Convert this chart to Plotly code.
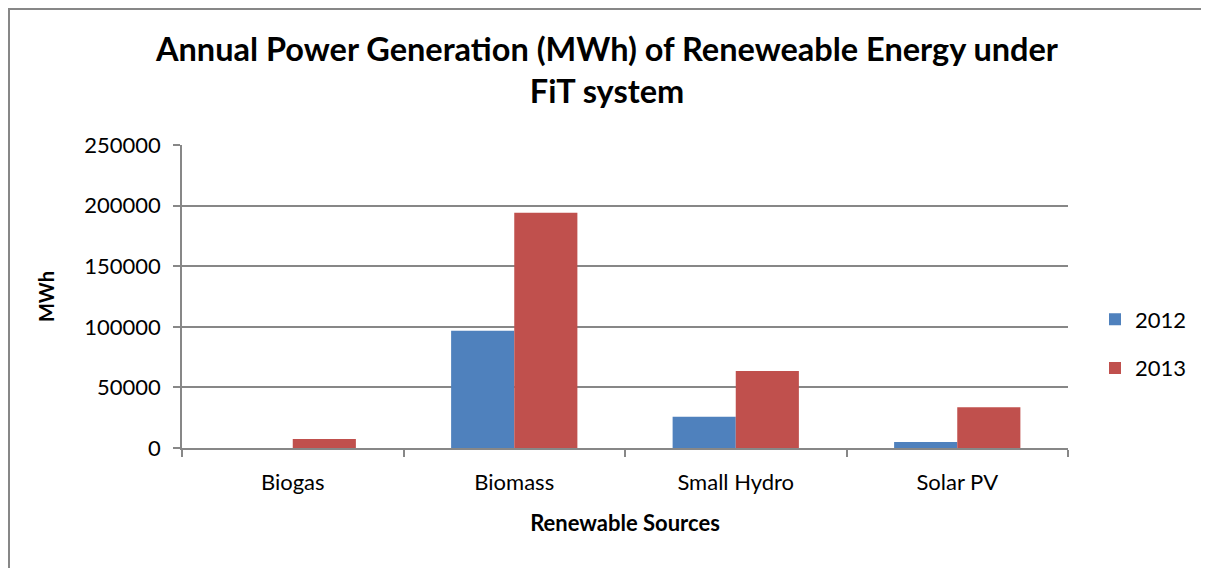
import plotly.graph_objects as go

categories = ["Biogas", "Biomass", "Small Hydro", "Solar PV"]
gen_2012 = [0, 96700, 25700, 4900]
gen_2013 = [7400, 194100, 63600, 33700]
y_ticks = [0, 50000, 100000, 150000, 200000, 250000]

# page has an 8px body margin, so the figure is 8px smaller and coords shifted by -8
OFF = 8
W, H = 1209 - OFF, 568 - OFF
L, R, T, B = 182 - OFF, 1068 - OFF, 145 - OFF, 448 - OFF
PW, PH = R - L, B - T


def fx(p):
    # figure pixel -> paper x
    return (p - L) / PW


def fy(p):
    # figure pixel -> paper y
    return (B - p) / PH


def px_x(p):
    return fx(p - OFF)


def px_y(p):
    return fy(p - OFF)


FONT = "Lato, 'Open Sans', sans-serif"
GRID = "#878787"

fig = go.Figure()
fig.add_bar(name="2012", x=categories, y=gen_2012, marker_color="#4F81BD",
            marker_line_width=0, legendgroup="g2012")
fig.add_bar(name="2013", x=categories, y=gen_2013, marker_color="#C0504D",
            marker_line_width=0, legendgroup="g2013")

fig.update_layout(
    width=W, height=H,
    margin=dict(l=L, r=W - R, t=T, b=H - B, autoexpand=False),
    paper_bgcolor="white", plot_bgcolor="white",
    font=dict(family=FONT, size=22, color="#000000"),
    barmode="group", bargap=0.43, bargroupgap=0,
    title=dict(text="<b>Annual Power Generation (MWh) of Reneweable Energy under<br>FiT system</b>",
               x=(607 - OFF) / W, xanchor="center", xref="container",
               y=1 - 53 / H, yanchor="middle", yref="container",
               font=dict(family=FONT, size=32.5, color="#000000")),
    legend=dict(x=px_x(1095), xanchor="left", y=px_y(344), yanchor="middle",
                font=dict(family=FONT, size=22, color="#000000"),
                tracegroupgap=17, bgcolor="rgba(0,0,0,0)"),
    xaxis=dict(showline=True, linecolor=GRID, linewidth=1.5,
               ticks="outside", tickson="boundaries", ticklen=7, tickcolor=GRID,
               tickwidth=1.5, showgrid=False, ticklabelstandoff=14,
               title=dict(text="<b>Renewable Sources</b>", standoff=21,
                          font=dict(family=FONT, size=22))),
    yaxis=dict(range=[0, 250000], tickvals=y_ticks, ticktext=[str(v) for v in y_ticks],
               showline=True, linecolor=GRID, linewidth=1.5,
               ticks="outside", ticklen=7, tickcolor=GRID, tickwidth=1.5,
               showgrid=True, gridcolor=GRID, gridwidth=1.5, zeroline=False,
               ticklabelstandoff=8,
               title=dict(text="<b>MWh</b>", standoff=24,
                          font=dict(family=FONT, size=20))),
    shapes=[
        dict(type="line", xref="paper", yref="paper",
             x0=fx(0), x1=fx(0), y0=fy(0), y1=fy(H + 10),
             line=dict(color=GRID, width=4)),
        dict(type="line", xref="paper", yref="paper",
             x0=fx(0), x1=fx(W + 10), y0=fy(0), y1=fy(0),
             line=dict(color=GRID, width=4)),
    ],
)

fig.write_html("out.html")
